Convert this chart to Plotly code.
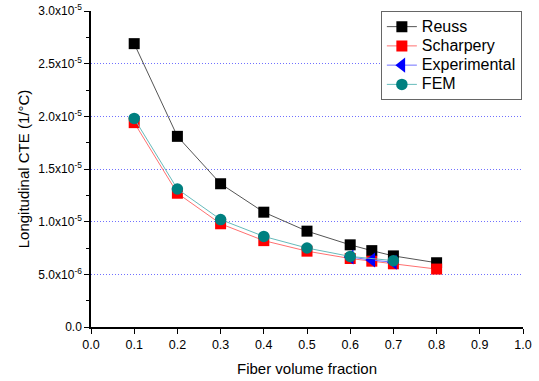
import plotly.graph_objects as go

vf_reuss = [0.1, 0.2, 0.3, 0.4, 0.5, 0.6, 0.65, 0.7, 0.8]
reuss = [2.69e-5, 1.81e-5, 1.36e-5, 1.09e-5, 0.91e-5, 0.78e-5, 0.725e-5, 0.675e-5, 0.61e-5]

vf_sch = [0.1, 0.2, 0.3, 0.4, 0.5, 0.6, 0.65, 0.7, 0.8]
scharpery = [1.94e-5, 1.27e-5, 0.98e-5, 0.82e-5, 0.72e-5, 0.65e-5, 0.625e-5, 0.60e-5, 0.55e-5]

vf_exp = [0.6, 0.65, 0.7]
experimental = [0.665e-5, 0.635e-5, 0.615e-5]

vf_fem = [0.1, 0.2, 0.3, 0.4, 0.5, 0.6, 0.7]
fem = [1.98e-5, 1.31e-5, 1.02e-5, 0.86e-5, 0.75e-5, 0.67e-5, 0.63e-5]

series_names = ["Reuss", "Scharpery", "Experimental", "FEM"]

y_tickvals = [0, 0.5e-5, 1.0e-5, 1.5e-5, 2.0e-5, 2.5e-5, 3.0e-5]
y_ticktext = ["0.0", "5.0x10<sup>-6</sup>", "1.0x10<sup>-5</sup>", "1.5x10<sup>-5</sup>",
              "2.0x10<sup>-5</sup>", "2.5x10<sup>-5</sup>", "3.0x10<sup>-5</sup>"]
grid_vals = [0.5e-5, 1.0e-5, 1.5e-5, 2.0e-5, 2.5e-5]
x_tickvals = [0.0, 0.1, 0.2, 0.3, 0.4, 0.5, 0.6, 0.7, 0.8, 0.9, 1.0]
x_ticktext = ["0.0", "0.1", "0.2", "0.3", "0.4", "0.5", "0.6", "0.7", "0.8", "0.9", "1.0"]


def lg(name):
    return '<span style="font-size:16px">' + name + '</span>'


fig = go.Figure()
fig.add_trace(go.Scatter(x=vf_reuss, y=reuss, name=lg(series_names[0]), mode="lines+markers",
                         line=dict(color="#555555", width=1),
                         marker=dict(symbol="square", size=11, color="black")))
fig.add_trace(go.Scatter(x=vf_sch, y=scharpery, name=lg(series_names[1]), mode="lines+markers",
                         line=dict(color="#ff7070", width=1),
                         marker=dict(symbol="square", size=11, color="#ff0000")))
fig.add_trace(go.Scatter(x=vf_exp, y=experimental, name=lg(series_names[2]), mode="lines+markers",
                         line=dict(color="#7070ff", width=1),
                         marker=dict(symbol="triangle-left", size=13, color="#0000ff")))
fig.add_trace(go.Scatter(x=vf_fem, y=fem, name=lg(series_names[3]), mode="lines+markers",
                         line=dict(color="#66bbbb", width=1),
                         marker=dict(symbol="circle", size=11.5, color="#008080")))
# invisible trace that carries the grid axis
fig.add_trace(go.Scatter(x=[0, 1], y=[0, 3e-5], yaxis="y2", mode="markers",
                         marker=dict(opacity=0), showlegend=False, hoverinfo="skip"))

font = "Liberation Sans, Arial, sans-serif"
fig.update_layout(
    width=539, height=381,
    margin=dict(l=91, r=16, t=11, b=54),
    plot_bgcolor="white", paper_bgcolor="white",
    font=dict(family=font, color="black", size=12),
    xaxis=dict(range=[0, 1], tickvals=x_tickvals, ticktext=x_ticktext, automargin=False,
               ticklabeloverflow="allow",
               showgrid=False, zeroline=False, showline=True, linecolor="black", linewidth=1.5,
               ticks="outside", ticklen=5, tickwidth=1.2, tickcolor="black",
               title=dict(text="Fiber volume fraction", font=dict(size=15), standoff=13),
               tickfont=dict(size=12.5)),
    yaxis=dict(range=[0, 3e-5], tickvals=y_tickvals, ticktext=y_ticktext, automargin=False,
               ticklabeloverflow="allow",
               showgrid=False, zeroline=False, showline=True, linecolor="black", linewidth=1.5,
               ticks="outside", ticklen=5, tickwidth=1.2, tickcolor="black",
               minor=dict(dtick=0.25e-5, ticks="outside", ticklen=3, tickwidth=1, tickcolor="black"),
               title=dict(text="Longitudinal CTE (1/°C)", font=dict(size=15), standoff=5),
               tickfont=dict(size=12)),
    yaxis2=dict(range=[0, 3e-5], overlaying="y", side="left", tickvals=grid_vals,
                showticklabels=False, automargin=False,
                showgrid=True, gridcolor="#7070ff", griddash="1px,2px", gridwidth=1,
                zeroline=False, showline=False, ticks=""),
    legend=dict(x=0.671, y=1.0, xanchor="left", yanchor="top",
                bordercolor="#666666", borderwidth=1, bgcolor="white",
                font=dict(size=12.5), tracegroupgap=0, itemwidth=30),
)
fig.write_html("out.html", config={"displayModeBar": False},
               post_script="document.body.style.margin='0px';")
